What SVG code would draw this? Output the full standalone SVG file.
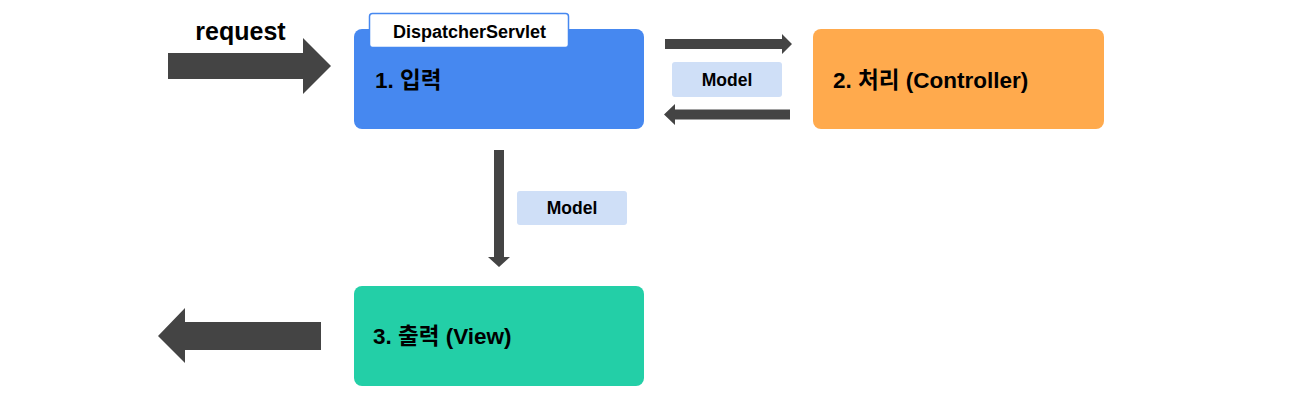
<svg xmlns="http://www.w3.org/2000/svg" width="1304" height="410" viewBox="0 0 1304 410">
<style>
  text { font-family: "Liberation Sans", "Noto Sans CJK KR", sans-serif; font-weight: bold; fill: #000; }
  .big { font-size: 22.5px; }
  .lbl { font-size: 17.5px; text-anchor: middle; }
  .arrow { fill: #444444; }
  .model { fill: #CFDFF7; }
</style>
<rect width="1304" height="410" fill="#ffffff"/>
<g id="connectors">
  <polygon class="arrow" points="168,53 303,53 303,38 331,66 303,94 303,79 168,79"/>
  <polygon class="arrow" points="665,39 782,39 782,34 792,44 782,54 782,49 665,49"/>
  <polygon class="arrow" points="790,109.5 675,109.5 675,104 664,114.5 675,125 675,119.5 790,119.5"/>
  <polygon class="arrow" points="494,150 504,150 504,257 510,257 499,267 488,257 494,257"/>
  <polygon class="arrow" points="321,322 185,322 185,308 158,336 185,363 185,350 321,350"/>
  <text x="240.5" y="39.5" font-size="25" text-anchor="middle">request</text>
  <g id="label-model-1">
    <rect class="model" x="672" y="62" width="110" height="35" rx="3"/>
    <text x="727" y="86" class="lbl">Model</text>
  </g>
  <g id="label-model-2">
    <rect class="model" x="517" y="191" width="110" height="34" rx="3"/>
    <text x="572" y="214" class="lbl">Model</text>
  </g>
</g>
<g id="node-input">
  <rect x="354" y="29" width="290" height="100" rx="8" fill="#4688F0"/>
  <rect x="369.5" y="13.5" width="199" height="34" rx="3" fill="#ffffff" stroke="#4688F0" stroke-width="1.5"/>
  <text x="469.5" y="37.5" font-size="18" text-anchor="middle">DispatcherServlet</text>
  <text x="375" y="88" class="big">1. 입력</text>
</g>
<g id="node-controller">
  <rect x="813" y="29" width="291" height="100" rx="8" fill="#FFAA4D"/>
  <text x="833" y="88" class="big">2. 처리 (Controller)</text>
</g>
<g id="node-view">
  <rect x="354" y="286" width="290" height="100" rx="8" fill="#23CFA7"/>
  <text x="373" y="344" class="big">3. 출력 (View)</text>
</g>
</svg>
